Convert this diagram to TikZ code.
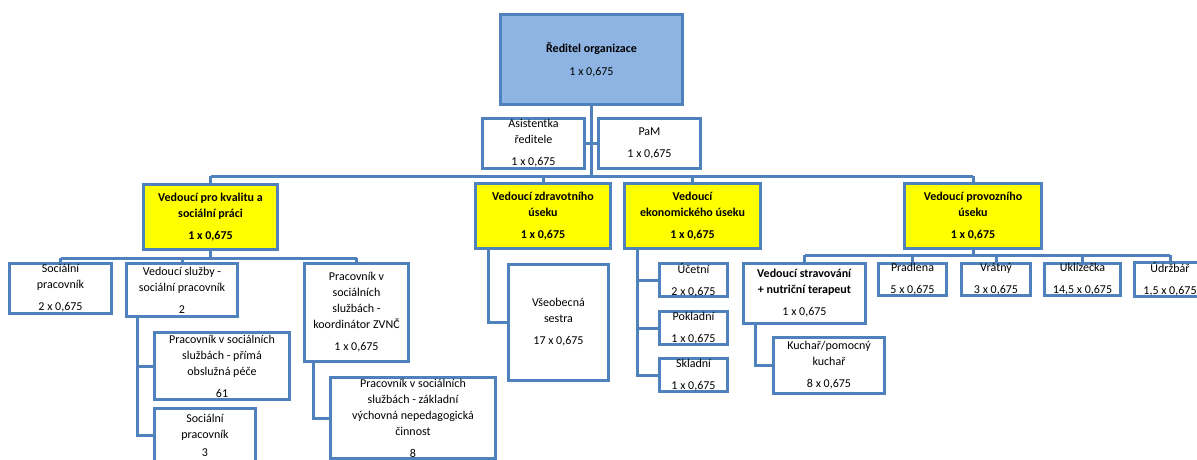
\documentclass[tikz,border=0pt]{standalone}
\usepackage{fontspec}
\setmainfont{Carlito}
\definecolor{boxline}{HTML}{4F81BD}
\definecolor{topblue}{HTML}{8DB4E2}
\definecolor{headyellow}{HTML}{FFFF00}

\begin{document}
\begin{tikzpicture}[x=1pt, y=-1pt]
\tikzstyle{box}=[rectangle, draw=boxline, line width=3pt, fill=white, inner sep=0pt, align=center, font=\fontsize{12}{16}\selectfont];
\tikzstyle{box_top}=[box, fill=topblue];
\tikzstyle{box_head}=[box, fill=headyellow, font=\fontsize{12}{16}\selectfont\bfseries];
\tikzstyle{line}=[draw=boxline, line width=3pt];

\useasboundingbox (0,0) rectangle (1197,460);
\clip (0,0) rectangle (1197,460);

% vedeni
\node [box_top, minimum width=182pt, minimum height=90pt] at (591.5,59.5) (reditel) {\textbf{Ředitel organizace}\\[7pt]1 x 0,675};
\node [box, minimum width=102pt, minimum height=50pt] at (533.5,143.5) (asist) {Asistentka\\ředitele\\[6pt]1 x 0,675};
\node [box, minimum width=102pt, minimum height=50pt] at (649.5,143.5) (pam) {PaM\\[6pt]1 x 0,675};

% useky
\node [box_head, minimum width=134pt, minimum height=65pt] at (210.5,217) (kvalita) {Vedoucí pro kvalitu a\\sociální práci\\[6pt]1 x 0,675};
\node [box_head, minimum width=135pt, minimum height=65pt] at (543,216) (zdrav) {Vedoucí zdravotního\\úseku\\[6pt]1 x 0,675};
\node [box_head, minimum width=136pt, minimum height=65pt] at (692.5,216) (ekonom) {Vedoucí\\ekonomického úseku\\[6pt]1 x 0,675};
\node [box_head, minimum width=137pt, minimum height=65pt] at (973,216) (provoz) {Vedoucí provozního\\úseku\\[6pt]1 x 0,675};

% kvalita a socialni prace
\node [box, minimum width=102pt, minimum height=50pt] at (60.5,288.5) (socprac) {Sociální\\pracovník\\[6pt]2 x 0,675};
\node [box, minimum width=111pt, minimum height=53pt] at (182,290) (vedsluz) {Vedoucí služby -\\sociální pracovník\\[6pt]2};
\node [box, minimum width=104pt, minimum height=98pt] at (356.5,312.5) (koord) {Pracovník v\\sociálních\\službách -\\koordinátor ZVNČ\\[6pt]1 x 0,675};
\node [box, minimum width=135pt, minimum height=67pt] at (222,366) (prima) {Pracovník v sociálních\\službách - přímá\\obslužná péče\\[6pt]61};
\node [box, minimum width=101pt, minimum height=53pt] at (205,435) (socprac3) {Sociální\\pracovník\\[2pt]3};
\node [box, minimum width=165pt, minimum height=81pt] at (413,418) (zakl) {Pracovník v sociálních\\službách - základní\\výchovná nepedagogická\\činnost\\[6pt]8};

% zdravotni usek
\node [box, minimum width=100pt, minimum height=116pt] at (558.5,322.5) (sestra) {Všeobecná\\sestra\\[6pt]17 x 0,675};

% ekonomicky usek
\node [box, minimum width=68pt, minimum height=33pt] at (693.5,280) (ucetni) {Účetní\\[6pt]2 x 0,675};
\node [box, minimum width=68pt, minimum height=33pt] at (693.5,328) (pokladni) {Pokladní\\[6pt]1 x 0,675};
\node [box, minimum width=68pt, minimum height=33pt] at (693.5,375) (skladni) {Skladní\\[6pt]1 x 0,675};

% provozni usek
\node [box, minimum width=122pt, minimum height=60pt] at (804.5,293.5) (strav) {\textbf{Vedoucí stravování}\\\textbf{+ nutriční terapeut}\\[6pt]1 x 0,675};
\node [box, minimum width=111pt, minimum height=56pt] at (829,365.5) (kuchar) {Kuchař/pomocný\\kuchař\\[6pt]8 x 0,675};
\node [box, minimum width=68pt, minimum height=32pt] at (912.5,279.5) (pradlena) {Pradlena\\[6pt]5 x 0,675};
\node [box, minimum width=69pt, minimum height=32pt] at (996,279.5) (vratny) {Vrátný\\[6pt]3 x 0,675};
\node [box, minimum width=76pt, minimum height=32pt] at (1082.5,279.5) (uklizecka) {Uklízečka\\[6pt]14,5 x 0,675};
\node [box, minimum width=71pt, minimum height=32pt] at (1170,279.5) (udrzbar) {Údržbář\\[6pt]1,5 x 0,675};

\coordinate (bus_top) at (0,176);
\coordinate (bus_kval) at (0,258);
\coordinate (bus_prov) at (0,255);
\coordinate (rail_sluz) at (137,0);
\coordinate (rail_koord) at (313,0);
\coordinate (rail_zdrav) at (488,0);
\coordinate (rail_ekon) at (637,0);
\coordinate (rail_strav) at (755,0);

\draw[line] (reditel.south) -- (reditel.south |- bus_top);
\draw[line] (asist.east) -- (pam.west);
\draw[line] (kvalita.north |- bus_top) -- (provoz.north |- bus_top);
\foreach \n in {kvalita, zdrav, ekonom, provoz}
  \draw[line] (\n.north |- bus_top) -- (\n.north);

\draw[line] (kvalita.south) -- (kvalita.south |- bus_kval);
\draw[line] (socprac.north |- bus_kval) -- (koord.north |- bus_kval);
\foreach \n in {socprac, vedsluz, koord}
  \draw[line] (\n.north |- bus_kval) -- (\n.north);
\draw[line] (vedsluz.south -| rail_sluz) |- (prima.west);
\draw[line] (vedsluz.south -| rail_sluz) |- (socprac3.west);
\draw[line] (koord.south -| rail_koord) |- (zakl.west);

\draw[line] (zdrav.south -| rail_zdrav) |- (sestra.west);

\foreach \n in {ucetni, pokladni, skladni}
  \draw[line] (ekonom.south -| rail_ekon) |- (\n.west);

\draw[line] (provoz.south) -- (provoz.south |- bus_prov);
\draw[line] (strav.north |- bus_prov) -- (udrzbar.north |- bus_prov);
\foreach \n in {strav, pradlena, vratny, uklizecka, udrzbar}
  \draw[line] (\n.north |- bus_prov) -- (\n.north);
\draw[line] (strav.south -| rail_strav) |- (kuchar.west);

\end{tikzpicture}
\end{document}
